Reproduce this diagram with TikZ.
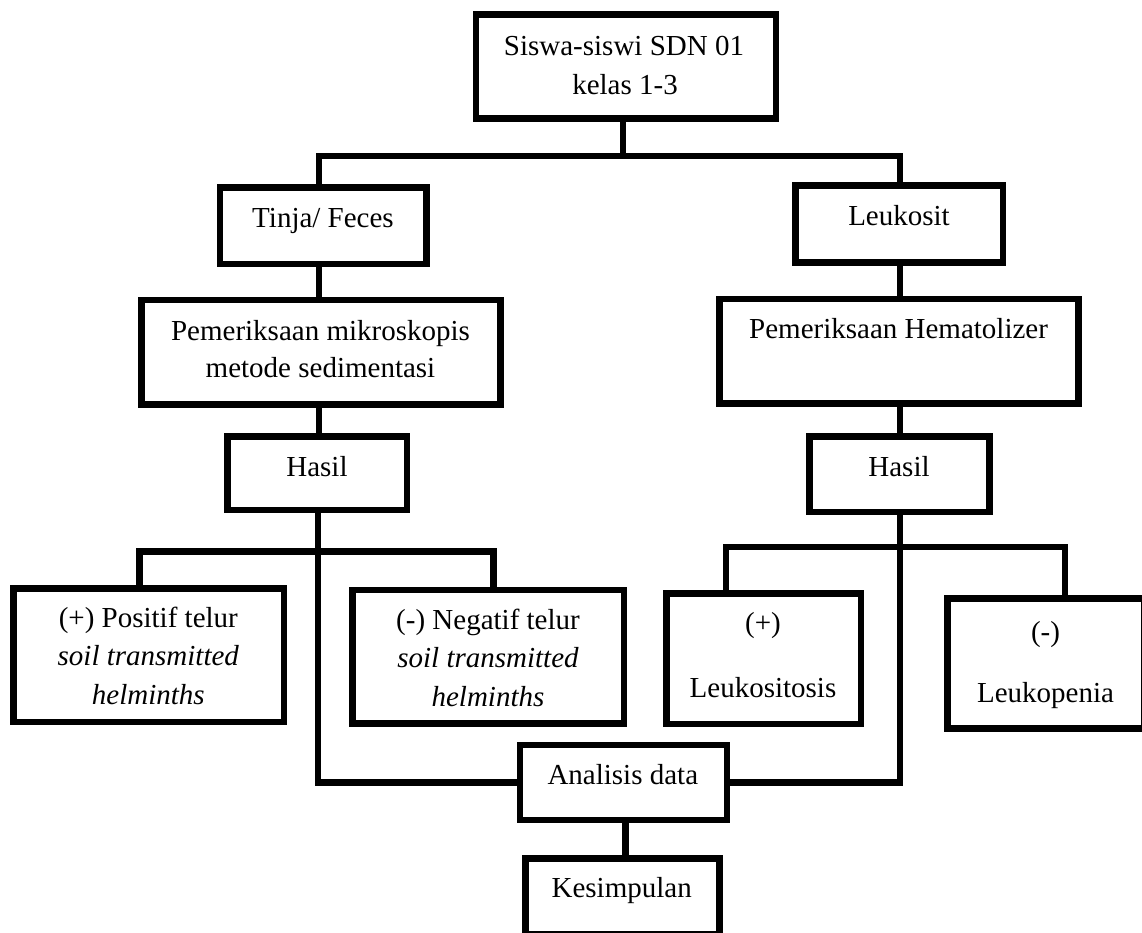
\documentclass[tikz,border=0pt]{standalone}
\usepackage{fontspec}
\setmainfont{Liberation Serif}
\begin{document}
\begin{tikzpicture}[x=1pt,y=-1pt,
  box/.style={draw=black, fill=white, line width=6.5pt, rectangle, inner sep=0pt},
  conn/.style={draw=black, line width=6.5pt, line join=miter},
  txt/.style={anchor=base, inner sep=0pt, font=\fontsize{29}{35}\selectfont},
  itxt/.style={txt, font=\fontsize{29}{35}\selectfont\itshape}]
\useasboundingbox (0,0) rectangle (1142,932);
% junction coordinates
\coordinate (jTop) at (623,156);
\coordinate (vL) at (319,156);
\coordinate (vR) at (900,156);
\coordinate (jL) at (318,551.7);
\coordinate (jLa) at (139.5,551.7);
\coordinate (jLb) at (493.5,551.7);
\coordinate (jR) at (900,547);
\coordinate (jRa) at (726,547);
\coordinate (jRb) at (1065,547);
\coordinate (vA) at (625.6,840);
% boxes
\node[box, minimum width=300pt, minimum height=104.25pt] (top) at (625.75,66.4) {};
\node[box, minimum width=206.5pt, minimum height=76.5pt] (tinja) at (323.2,225.5) {};
\node[box, minimum width=359.1pt, minimum height=104.5pt] (mikro) at (320.8,352.2) {};
\node[box, minimum width=179.5pt, minimum height=73.5pt] (hasilL) at (317,473.3) {};
\node[box, minimum width=207.5pt, minimum height=76.9pt] (leuko) at (899,224) {};
\node[box, minimum width=359.1pt, minimum height=104.5pt] (hema) at (898.8,351.2) {};
\node[box, minimum width=180.2pt, minimum height=75.5pt] (hasilR) at (899.35,474.3) {};
\node[box, minimum width=270.5pt, minimum height=133.5pt] (pos) at (148.5,655) {};
\node[box, minimum width=271.5pt, minimum height=133.5pt] (neg) at (488,656.7) {};
\node[box, minimum width=194.5pt, minimum height=130.5pt] (leukositosis) at (763.5,658.5) {};
\node[box, minimum width=197pt, minimum height=130pt] (leukopenia) at (1045.75,663.25) {};
\node[box, minimum width=206.8pt, minimum height=75.1pt] (analisis) at (623.35,782.5) {};
\node[box, minimum width=194pt, minimum height=75.95pt] (kesimpulan) at (622.25,896.5) {};
% connectors
\draw[conn] (top.south -| jTop) -- (jTop);
\draw[conn] (tinja.north -| vL) -- (vL) -- (vR) -- (leuko.north -| vR);
\draw[conn] (tinja.south -| vL) -- (mikro.north -| vL);
\draw[conn] (mikro.south -| vL) -- (hasilL.north -| vL);
\draw[conn] (pos.north -| jLa) -- (jLa) -- (jLb) -- (neg.north -| jLb);
\draw[conn] (hasilL.south -| jL) -- (jL) |- (analisis.west);
\draw[conn] (leuko.south -| vR) -- (hema.north -| vR);
\draw[conn] (hema.south -| vR) -- (hasilR.north -| vR);
\draw[conn] (leukositosis.north -| jRa) -- (jRa) -- (jRb) -- (leukopenia.north -| jRb);
\draw[conn] (hasilR.south -| jR) -- (jR) |- (analisis.east);
\draw[conn] (analisis.south -| vA) -- (kesimpulan.north -| vA);
% texts
\node[txt] (t1) at (624,55) {Siswa-siswi SDN 01};
\node[txt] (t2) at (625,94.3) {kelas 1-3};
\node[txt] (t3) at (323,227.7) {Tinja/ Feces};
\node[txt] (t4) at (320.5,340) {Pemeriksaan mikroskopis};
\node[txt] (t5) at (320.5,377.7) {metode sedimentasi};
\node[txt] (t6) at (317,476) {Hasil};
\node[txt] (t7) at (899,225) {Leukosit};
\node[txt] (t8) at (898.6,338.3) {Pemeriksaan Hematolizer};
\node[txt] (t9) at (899,476) {Hasil};
\node[txt] (t10) at (148.3,627.7) {(+) Positif telur};
\node[itxt] (t11) at (148.3,665.3) {soil transmitted};
\node[itxt] (t12) at (148.3,704.3) {helminths};
\node[txt] (t13) at (488,629.3) {(-) Negatif telur};
\node[itxt] (t14) at (488,667) {soil transmitted};
\node[itxt] (t15) at (488,706) {helminths};
\node[txt] (t16) at (763,632.7) {(+)};
\node[txt] (t17) at (763,697.7) {Leukositosis};
\node[txt] (t18) at (1045.5,641.7) {(-)};
\node[txt] (t19) at (1045.5,702.7) {Leukopenia};
\node[txt] (t20) at (622.8,784) {Analisis data};
\node[txt] (t21) at (621.7,897.5) {Kesimpulan};
\end{tikzpicture}
\end{document}
